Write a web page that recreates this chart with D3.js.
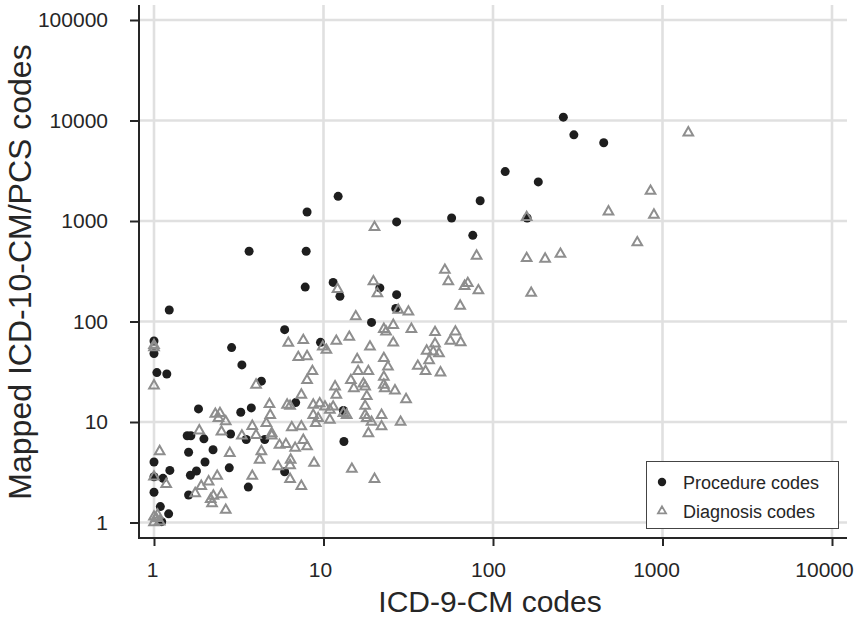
<!DOCTYPE html>
<html><head><meta charset="utf-8">
<script src="https://cdn.jsdelivr.net/npm/d3@7"></script>
<style>body{margin:0;background:#fff}svg{display:block;font-family:"Liberation Sans",Arial,sans-serif}</style>
</head><body><svg id="c" width="859" height="623"></svg>
<script>
const xTicks=[1,10,100,1000,10000];
const yTicks=[1,10,100,1000,10000,100000];
const procX=[260,300,450,118,185,12.2,8,84,27,57,159,76,3.64,7.9,7.8,11.4,12.5,21.5,27,26.7,19.2,1.23,5.9,1,1,1.04,1.19,2.87,3.3,4.3,9.6,1.83,3.25,3.75,6.85,13.1,1.57,1.65,1.97,2.83,3.5,4.5,13.2,1.6,2.23,2.0,1.78,1.64,2.78,3.6,1.6,1,1.24,1.13,1,1.09,1.22,1.11,1,5.9];
const procY=[10800,7200,6000,3100,2450,1760,1230,1590,980,1070,1070,720,500,500,220,245,178,216,185,135,98,130,83,64,48,31,30,55,37,25.5,62,13.5,12.5,13.8,15.6,13,7.3,7.3,6.8,7.6,6.7,6.7,6.4,5.0,5.3,4.0,3.25,2.95,3.5,2.25,1.88,4.0,3.3,2.75,2.0,1.44,1.22,1.02,2.85,3.2];
const diagX=[1420,850,480,890,710,80,52,158,203,250,158,54.5,168,68,71,82,64,31.7,27.6,25.8,22.7,23.4,33,45.5,60,56,64.5,25.8,45.5,40.6,44.4,48,42,36,40,49,22.7,24,22.7,22.7,23,26.4,30.7,22,22,28.5,19.7,20.8,20,12.1,15.5,7.6,11.9,14.2,9.9,10.4,18.8,7.1,8.0,15.8,8.6,8,16,18.4,14.5,17.2,17.6,15.1,11.7,11.9,7.4,18,17.6,8.7,9.5,10.2,10.9,11.4,13.1,8.7,9.3,10.9,9,7.4,17.6,18,19.2,18.4,7.6,8,6.35,13.7,14.7,20,6.5,4.95,5.5,6,6.8,6.4,5.4,6.35,8.8,6.35,7.4,4.8,6.1,2.3,2.45,2.4,2.65,2.5,1.85,4.85,3.8,4.6,3.3,4.0,4.95,4.3,4.2,2.8,1.08,3.8,2.36,2.1,1.9,1.75,2.5,2.16,2.2,2.65,1,1.18,1,1.03,1.05,1,1.08,1,4.0,2.24,6.2,1,1];
const diagY=[7570,1990,1240,1150,610,450,325,425,420,470,1090,250,192,225,240,203,143,125,130,92,84,79,84,78,79,64,62,61.5,60,51,50,48,41,36,32,31,43,35.5,28,23.4,21.6,20.5,16.8,11.7,9,10,250,190,865,210,112,65,64,70,56,52,56,44,45,42,32,26,32,32,26,24,22.5,21.6,22.5,18.6,18.6,18,14.4,14.8,15.3,14.2,13.2,14.2,12.2,11.7,10.9,10.5,9.7,9,11.7,10.9,10,7.7,6.6,5.7,14.4,11.7,3.4,2.7,8.8,7.7,5.9,6,5.5,4.2,3.6,3.7,3.9,2.7,2.3,15,14.8,12,12.2,10.9,10.1,8,8.2,11.7,9.1,9.7,7.3,7.4,7.3,5.1,4.2,4.9,5.1,2.9,2.9,2.55,2.3,1.95,1.9,1.7,1.55,1.33,2.85,2.4,1.14,1.1,1.19,1.0,1.02,23,23.4,1.84,61,58,55];
const seriesNames=["Procedure codes","Diagnosis codes"];

const svg=d3.select("#c");
const L=139,R=847,T=5,B=538;
const x=d3.scaleLog().domain([1,10000]).range([154,832]);
const y=d3.scaleLog().domain([1,100000]).range([522.5,20]);
const ink="#262626";

// grid
const g=svg.append("g");
g.selectAll("line.vx").data(xTicks).join("line").attr("x1",d=>x(d)).attr("x2",d=>x(d)).attr("y1",T).attr("y2",B).attr("stroke","#e0e0e0").attr("stroke-width",2.6);
g.selectAll("line.hy").data(yTicks).join("line").attr("y1",d=>y(d)).attr("y2",d=>y(d)).attr("x1",L).attr("x2",R).attr("stroke","#e0e0e0").attr("stroke-width",2.6);

// points
const proc=procX.map((v,i)=>[v,procY[i]]);
const diag=diagX.map((v,i)=>[v,diagY[i]]);
svg.append("g").selectAll("circle").data(proc).join("circle").attr("cx",d=>x(d[0])).attr("cy",d=>y(d[1])).attr("r",4.5).attr("fill","#1e1e1e");
const tri=d3.symbol().type(d3.symbolTriangle).size(40);
svg.append("g").selectAll("path").data(diag).join("path").attr("d",tri).attr("transform",d=>`translate(${x(d[0])},${y(d[1])})`).attr("fill","none").attr("stroke","#8e8e8e").attr("stroke-width",2);

// axes
const ax=svg.append("g").attr("transform",`translate(0,${B})`).call(d3.axisBottom(x).tickValues(xTicks).tickFormat(d3.format("d")).tickSize(8).tickSizeOuter(0).tickPadding(16));
const ay=svg.append("g").attr("transform",`translate(${L},0)`).call(d3.axisLeft(y).tickValues(yTicks).tickFormat(d3.format("d")).tickSize(9).tickSizeOuter(0).tickPadding(22));
[ax,ay].forEach(a=>{a.select(".domain").remove();a.selectAll("line").attr("stroke",ink).attr("stroke-width",2);a.selectAll("text").attr("fill",ink).style("font-size","21px").style("font-family","Liberation Sans, Arial, sans-serif");});
ax.selectAll("text").attr("dx",d=>-(0.5+1.5*String(d).length));
svg.append("line").attr("x1",L).attr("x2",R).attr("y1",B).attr("y2",B).attr("stroke",ink).attr("stroke-width",2);
svg.append("line").attr("x1",L).attr("x2",L).attr("y1",T).attr("y2",B+1).attr("stroke",ink).attr("stroke-width",2);

// titles
svg.append("text").attr("x",490).attr("y",612).attr("text-anchor","middle").attr("fill",ink).style("font-size","30px").text("ICD-9-CM codes");
svg.append("text").attr("transform","translate(31,272) rotate(-90)").attr("text-anchor","middle").attr("fill",ink).style("font-size","32px").text("Mapped ICD-10-CM/PCS codes");

// legend
const lg=svg.append("g");
lg.append("rect").attr("x",646.5).attr("y",461.5).attr("width",192).attr("height",67).attr("fill","#fff").attr("stroke","#444").attr("stroke-width",1);
lg.append("circle").attr("cx",662).attr("cy",482).attr("r",4.2).attr("fill","#1e1e1e");
lg.append("path").attr("d",d3.symbol().type(d3.symbolTriangle).size(28)).attr("transform","translate(662,511)").attr("fill","none").attr("stroke","#8e8e8e").attr("stroke-width",1.8);
lg.selectAll("text").data(seriesNames).join("text").attr("x",683).attr("y",(d,i)=>488.5+i*29).attr("fill",ink).style("font-size","18px").text(d=>d);
</script></body></html>
